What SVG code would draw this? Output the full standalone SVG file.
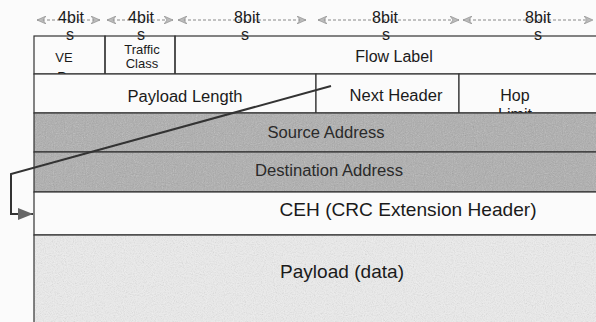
<svg xmlns="http://www.w3.org/2000/svg" width="596" height="322" viewBox="0 0 596 322">
<style>
text{font-family:"Liberation Sans",Arial,sans-serif;fill:#1a1a1a;text-anchor:middle}
.dim{font-size:16px}
.lbl{font-size:16px}
.big{font-size:19px}
.sm{font-size:13px}
.cell{stroke:#333;stroke-width:1.2;fill:none}
.wcell{stroke:#333;stroke-width:1.2;fill:#fbfbfb}
.dash{stroke:#888;stroke-width:1;stroke-dasharray:3,2;fill:none}
</style>
<defs>
<marker id="ah" markerWidth="10" markerHeight="8" refX="9" refY="4" orient="auto-start-reverse" markerUnits="userSpaceOnUse">
<path d="M0,0 L9,4 L0,8 L3,4 Z" fill="#bbb" stroke="#888" stroke-width="0.6"/>
</marker>
<marker id="conn" markerWidth="16" markerHeight="12" refX="15" refY="6" orient="auto" markerUnits="userSpaceOnUse">
<path d="M0,0 L15,6 L0,12 Z" fill="#666"/>
</marker>
<filter id="noise" x="0" y="0" width="100%" height="100%">
<feTurbulence type="fractalNoise" baseFrequency="0.9" numOctaves="2" seed="3" result="n"/>
<feColorMatrix type="saturate" values="0" in="n" result="g"/>
<feComponentTransfer in="g" result="g2"><feFuncA type="linear" slope="0.45"/></feComponentTransfer>
<feComposite in="g2" in2="SourceGraphic" operator="in" result="m"/>
<feMerge><feMergeNode in="SourceGraphic"/><feMergeNode in="m"/></feMerge>
</filter>
</defs>
<rect width="596" height="322" fill="#fbfbfb"/>
<g id="bit-dimensions">
<line class="dash" x1="37" y1="20" x2="100" y2="20" marker-start="url(#ah)" marker-end="url(#ah)"/>
<line class="dash" x1="107" y1="20" x2="173" y2="20" marker-start="url(#ah)" marker-end="url(#ah)"/>
<line class="dash" x1="178" y1="20" x2="306" y2="20" marker-start="url(#ah)" marker-end="url(#ah)"/>
<line class="dash" x1="318" y1="20" x2="459" y2="20" marker-start="url(#ah)" marker-end="url(#ah)"/>
<line class="dash" x1="463" y1="20" x2="593" y2="20" marker-start="url(#ah)" marker-end="url(#ah)"/>
<text class="dim" x="71" y="23">4bit</text>
<text class="dim" x="141" y="23">4bit</text>
<text class="dim" x="247" y="23">8bit</text>
<text class="dim" x="385" y="23">8bit</text>
<text class="dim" x="538" y="23">8bit</text>
<text class="dim" x="70" y="40">s</text>
<text class="dim" x="141" y="40">s</text>
<text class="dim" x="245" y="40">s</text>
<text class="dim" x="386" y="40">s</text>
<text class="dim" x="538" y="40">s</text>
</g>
<g id="ver">
<rect class="cell" x="34" y="36" width="71" height="38"/>
<text class="sm" x="64" y="62">VE</text>
<text class="sm" x="62" y="81">R</text>
</g>
<g id="traffic-class">
<rect class="cell" x="105" y="36" width="70" height="38"/>
<text class="sm" x="142" y="54">Traffic</text>
<text class="sm" x="142" y="68">Class</text>
</g>
<g id="flow-label">
<rect class="cell" x="175" y="36" width="425" height="38"/>
<text class="lbl" x="394" y="62">Flow Label</text>
</g>
<g id="payload-length">
<rect class="wcell" x="34" y="74" width="282" height="39"/>
<text class="lbl" x="185" y="102" textLength="115" lengthAdjust="spacingAndGlyphs">Payload Length</text>
</g>
<g id="next-header">
<rect class="wcell" x="316" y="74" width="143" height="39"/>
<text class="lbl" x="396" y="101" textLength="93" lengthAdjust="spacingAndGlyphs">Next Header</text>
</g>
<g id="hop-limit">
<rect class="wcell" x="459" y="74" width="141" height="39"/>
<text class="lbl" x="515" y="101">Hop</text>
<text class="lbl" x="515" y="120">Limit</text>
</g>
<g id="source-address">
<rect x="34" y="113" width="566" height="39" fill="#adadad" filter="url(#noise)"/>
<rect class="cell" x="34" y="113" width="566" height="39"/>
<text class="lbl" x="326" y="138" style="fill:#2a2a2a" textLength="117" lengthAdjust="spacingAndGlyphs">Source Address</text>
</g>
<g id="destination-address">
<rect x="34" y="152" width="566" height="40" fill="#adadad" filter="url(#noise)"/>
<rect class="cell" x="34" y="152" width="566" height="40"/>
<text class="lbl" x="329" y="176" style="fill:#2a2a2a" textLength="148" lengthAdjust="spacingAndGlyphs">Destination Address</text>
</g>
<g id="ceh">
<rect class="wcell" x="34" y="192" width="566" height="43"/>
<text class="big" x="408" y="216" textLength="257" lengthAdjust="spacingAndGlyphs">CEH (CRC Extension Header)</text>
</g>
<g id="payload">
<rect x="34" y="235" width="566" height="90" fill="#eeeeee" filter="url(#noise)" opacity="0.9"/>
<rect class="cell" x="34" y="235" width="566" height="90"/>
<text class="big" x="342" y="278" textLength="124" lengthAdjust="spacingAndGlyphs">Payload (data)</text>
</g>
<g id="connectors">
<polyline points="331,86 11,174 11,214 33,214" fill="none" stroke="#333" stroke-width="2" marker-end="url(#conn)"/>
</g>
</svg>
